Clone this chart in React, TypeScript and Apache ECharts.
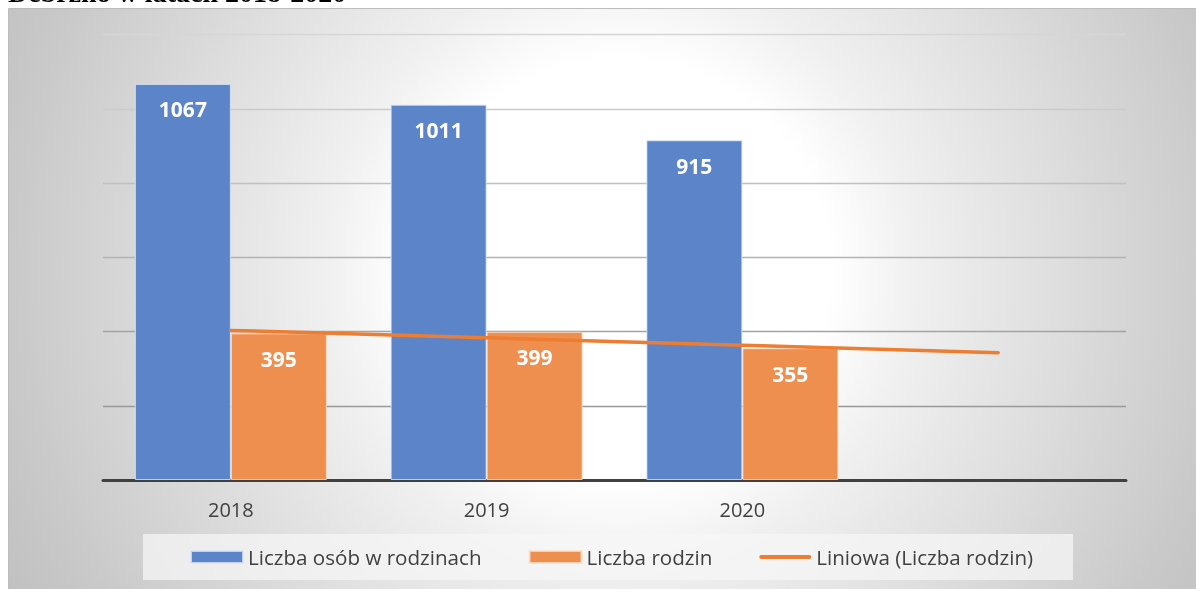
import React, { useEffect, useRef } from "react";
import * as echarts from "echarts";

const titleText = "Debrzno w latach 2018-2020";
const categories = ["2018", "2019", "2020", ""];
const persons = [1067, 1011, 915, null];
const families = [395, 399, 355, null];
const trendFamilies = [403, 383, 363, 343];
const seriesNames = ["Liczba osób w rodzinach", "Liczba rodzin", "Liniowa (Liczba rodzin)"];
const gridColors = ["#8f8f8f", "#999999", "#a3a3a3", "#b3b3b3", "#c0c0c0", "#cbcbcb", "#d6d6d6"];

export default function App() {
  const ref = useRef<HTMLDivElement>(null);
  useEffect(() => {
    const chart = echarts.init(ref.current!, undefined, { renderer: "svg" });
    const font = "'Open Sans', sans-serif";
    chart.setOption({
      animation: false,
      grid: { left: 103, right: 70, top: 34.5, bottom: 109, containLabel: false },
      graphic: [
        {
          type: "rect",
          z: -20,
          shape: { x: 8.5, y: 8.5, width: 1188, height: 581 },
          style: {
            fill: {
              type: "radial",
              x: 620,
              y: 270,
              r: 700,
              global: true,
              colorStops: [
                { offset: 0, color: "#ffffff" },
                { offset: 0.3, color: "#ffffff" },
                { offset: 0.42, color: "#f0f0f0" },
                { offset: 0.87, color: "#c9c9c9" },
                { offset: 1, color: "#c0c0c0" },
              ],
            },
            stroke: "#bdbdbd",
            lineWidth: 1,
          },
        },
        {
          type: "rect",
          z: -10,
          shape: { x: 143, y: 534, width: 930, height: 46 },
          style: { fill: "rgba(246,246,246,0.72)" },
        },
        {
          type: "text",
          z: 10,
          x: 8,
          y: -8,
          style: {
            text: titleText,
            font: "bold 28px 'Liberation Serif', serif",
            fill: "#000000",
            verticalAlign: "middle",
            align: "left",
          },
        },
      ],
      legend: {
        left: 190,
        top: 545,
        padding: 0,
        itemWidth: 52,
        itemHeight: 12,
        itemGap: 47,
        textStyle: { color: "#404040", fontSize: 20.6, fontFamily: font, lineHeight: 24 },
        data: [
          { name: seriesNames[0], icon: "rect" },
          { name: seriesNames[1], icon: "rect" },
          {
            name: seriesNames[2],
            icon: "path://M2,0 h48 a2,2 0 0 1 0,4 h-48 a2,2 0 0 1 0,-4 Z",
          },
        ],
      },
      xAxis: {
        type: "category",
        data: categories,
        axisLine: { lineStyle: { color: "#404040", width: 3 } },
        axisTick: { show: false },
        axisLabel: { color: "#404040", fontSize: 20, fontFamily: font, margin: 19 },
      },
      yAxis: {
        type: "value",
        min: 0,
        max: 1200,
        interval: 200,
        axisLabel: { show: false },
        axisLine: { show: false },
        axisTick: { show: false },
        splitLine: { lineStyle: { color: gridColors, width: 1.3 } },
      },
      series: [
        {
          name: seriesNames[0],
          type: "bar",
          data: persons,
          barWidth: 96,
          barGap: "0%",
          itemStyle: { color: "#5b84c9", borderColor: "rgba(220,230,250,0.8)", borderWidth: 1 },
          label: {
            show: true,
            position: "insideTop",
            distance: 15,
            color: "#ffffff",
            fontWeight: "bold",
            fontSize: 21,
            fontFamily: font,
          },
        },
        {
          name: seriesNames[1],
          type: "bar",
          data: families,
          barWidth: 96,
          barGap: "0%",
          itemStyle: { color: "#ef8f4f", borderColor: "rgba(250,225,205,0.8)", borderWidth: 1 },
          label: {
            show: true,
            position: "insideTop",
            distance: 15,
            color: "#ffffff",
            fontWeight: "bold",
            fontSize: 21,
            fontFamily: font,
          },
        },
        {
          name: seriesNames[2],
          type: "line",
          data: trendFamilies,
          symbol: "none",
          z: 5,
          lineStyle: { color: "#ed7d31", width: 3.5, cap: "round" },
          itemStyle: { color: "#ed7d31" },
        },
      ],
    });
    return () => chart.dispose();
  }, []);
  return (
    <div
      ref={ref}
      style={{ position: "fixed", left: 0, top: 0, width: 1196, height: 589 }}
    />
  );
}
